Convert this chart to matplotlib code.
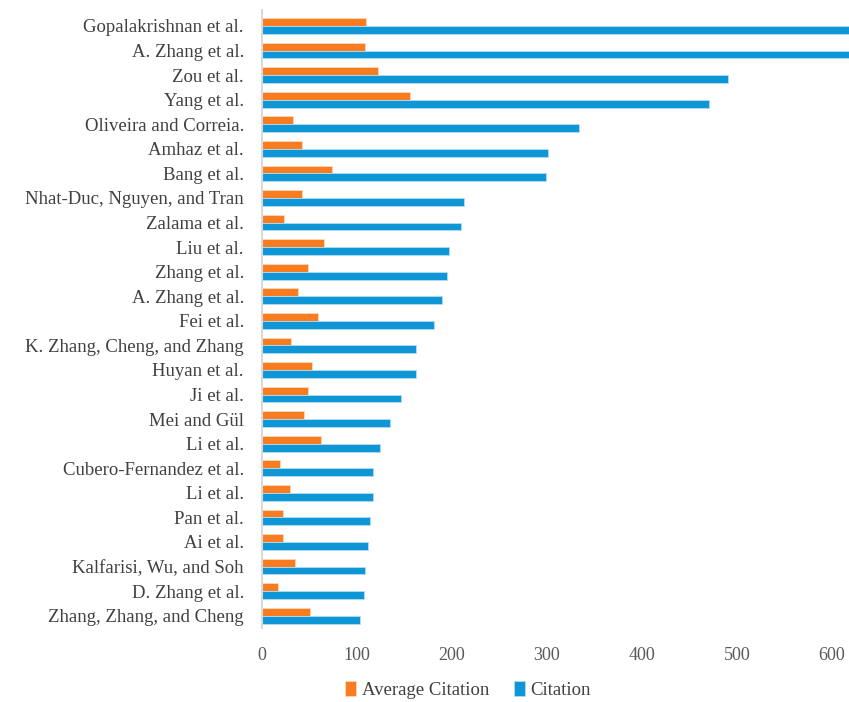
import matplotlib.pyplot as plt
import numpy as np

authors = [
    "Gopalakrishnan et al.", "A. Zhang et al.", "Zou et al.", "Yang et al.",
    "Oliveira and Correia.", "Amhaz et al.", "Bang et al.",
    "Nhat-Duc, Nguyen, and Tran", "Zalama et al.", "Liu et al.", "Zhang et al.",
    "A. Zhang et al.", "Fei et al.", "K. Zhang, Cheng, and Zhang", "Huyan et al.",
    "Ji et al.", "Mei and Gül", "Li et al.", "Cubero-Fernandez et al.", "Li et al.",
    "Pan et al.", "Ai et al.", "Kalfarisi, Wu, and Soh", "D. Zhang et al.",
    "Zhang, Zhang, and Cheng",
]
citation = [700, 650, 491, 471, 334, 301, 299, 213, 210, 197, 195, 190, 181,
            162, 162, 146, 135, 124, 117, 117, 114, 112, 108, 107, 103]
avg_citation = [109, 108, 122, 156, 33, 42, 74, 42, 23, 65, 48, 38, 59,
                31, 53, 48, 44, 62, 19, 29, 22, 22, 35, 17, 51]

orange = "#F97C21"
blue = "#0E96D6"

plt.rcParams['font.family'] = ['Liberation Serif', 'DejaVu Serif']

fig = plt.figure(figsize=(8.49, 7.02), dpi=100)
ax = fig.add_axes([262 / 849, 1 - 628 / 702, 1 - 262 / 849, 618 / 702])

y = np.arange(len(authors))
h = 0.32
ax.barh(y - h / 2, avg_citation, height=h, color=orange, edgecolor="#FDD9BD",
        linewidth=0.6, label="Average Citation")
ax.barh(y + h / 2, citation, height=h, color=blue, edgecolor="#B5DDF2",
        linewidth=0.6, label="Citation")

ax.set_ylim(len(authors) - 0.5, -0.65)
ax.set_xlim(0, 618)
ax.set_xticks(range(0, 601, 100))
ax.set_yticks(y)
ax.set_yticklabels(authors, fontsize=13.5, color="#404040")
ax.tick_params(axis="x", length=0, pad=14, labelsize=13, labelcolor="#595959")
ax.tick_params(axis="y", length=0, pad=13)

for s in ["top", "right", "bottom"]:
    ax.spines[s].set_visible(False)
ax.spines["left"].set_color("#D9D9D9")
ax.spines["left"].set_linewidth(1.5)

fig.legend(loc="center", bbox_to_anchor=(468 / 849, 1 - 690 / 702), ncol=2,
           frameon=False, fontsize=13.5, handlelength=0.6, handleheight=0.9,
           handletextpad=0.3, columnspacing=1.3, labelcolor="#404040")

fig.savefig("out.png", dpi=100)
